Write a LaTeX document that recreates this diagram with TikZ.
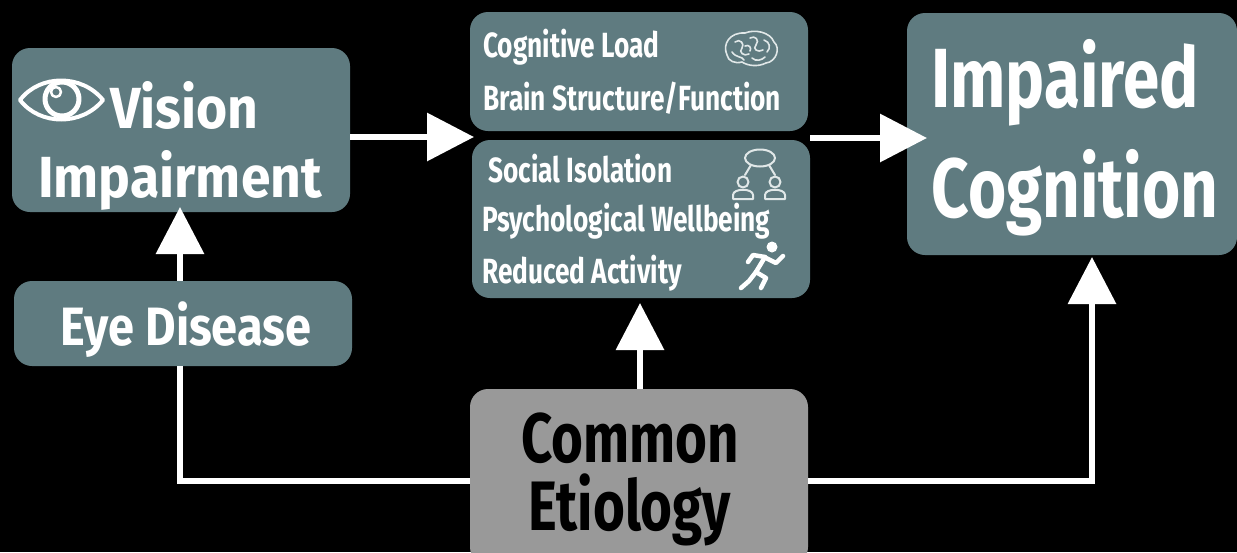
\documentclass[tikz,border=0pt]{standalone}
\usepackage{fontspec}
\setmainfont{Fira Sans}[FakeStretch=0.82]
\newfontfamily\fVis{Fira Sans}[FakeStretch=0.92]
\newfontfamily\fEye{Fira Sans}[FakeStretch=0.87]
\newfontfamily\fMid{Fira Sans}[FakeStretch=0.75]
\newfontfamily\fBig{Fira Sans}[FakeStretch=0.78]
\usetikzlibrary{arrows.meta,calc}
\definecolor{boxc}{RGB}{95,123,128}
\definecolor{graybox}{RGB}{153,153,153}
\definecolor{iconc}{RGB}{225,232,232}
\tikzset{
  box/.style={fill=boxc, rounded corners=18pt, inner sep=0pt},
  gbox/.style={fill=graybox, rounded corners=18pt, inner sep=0pt},
  txt/.style={text=white, inner sep=0pt},
  btxt/.style={text=black, inner sep=0pt},
  midtxt/.style={txt, anchor=base west, font=\fMid\bfseries\fontsize{35}{36}\selectfont},
  conn/.style={draw=white, line width=6.5pt},
  arr/.style={conn, -{Triangle[length=47pt,width=47pt]}},
  icon/.style={draw=white, line cap=round, line join=round},
}
\begin{document}
\begin{tikzpicture}[x=1pt,y=-1pt]
\fill[black] (0,0) rectangle (1237,552);
\useasboundingbox (0,0) rectangle (1237,552);
% boxes
\node[box, minimum width=338pt, minimum height=164pt] (vis) at (181,130) {};
\node[box, minimum width=338pt, minimum height=85pt] (eye) at (183,323.5) {};
\node[box, minimum width=338pt, minimum height=119pt] (cog) at (639,71.5) {};
\node[box, minimum width=338pt, minimum height=158pt] (soc) at (641,219) {};
\node[box, minimum width=330pt, minimum height=242pt] (imp) at (1072,134) {};
\node[gbox, minimum width=338pt, minimum height=176pt] (com) at (639,477) {};
% texts
\node[txt, anchor=base west, font=\fVis\bfseries\fontsize{58}{60}\selectfont] (visT1) at (110,128) {Vision};
\node[txt, anchor=base, font=\fVis\bfseries\fontsize{58}{60}\selectfont] (visT2) at (180,197) {Impairment};
\node[txt, anchor=base, font=\fEye\bfseries\fontsize{54}{56}\selectfont] (eyeT) at (186,345) {Eye Disease};
\node[midtxt] (cogT1) at (483,57) {Cognitive Load};
\node[midtxt] (cogT2) at (483,110) {Brain Structure/Function};
\node[midtxt] (socT1) at (488,182) {Social Isolation};
\node[midtxt] (socT2) at (482,231) {Psychological Wellbeing};
\node[midtxt] (socT3) at (482,283) {Reduced Activity};
\node[txt, anchor=base, font=\fBig\bfseries\fontsize{84}{86}\selectfont] (impT1) at (1065,107) {Impaired};
\node[txt, anchor=base, font=\fBig\bfseries\fontsize{84}{86}\selectfont] (impT2) at (1075,217) {Cognition};
\node[btxt, anchor=base, font=\fBig\bfseries\fontsize{70}{72}\selectfont] (comT1) at (630,462) {Common};
\node[btxt, anchor=base, font=\fBig\bfseries\fontsize{70}{72}\selectfont] (comT2) at (630,530) {Etiology};
% connector coordinates
\coordinate (gapL) at (474,137);
\coordinate (gapR) at (927,138);
\coordinate (visIn) at (180,207);
\coordinate (socIn) at (640,303);
\coordinate (impIn) at (1092,257);
\coordinate (baseY) at (0,481);
% connectors
\draw[arr] (vis.east |- gapL) -- (gapL);
\draw[arr] (soc.east |- gapR) -- (gapR);
\draw[arr] (eye.north -| visIn) -- (visIn);
\draw[arr] (com.north -| socIn) -- (socIn);
\draw[conn] (com.west |- baseY) -| (eye.south -| visIn);
\draw[arr] (com.east |- baseY) -| (impIn);
% eye icon
\draw[icon, line width=4pt] (20,100) .. controls (40,74) and (82,74) .. (103,100) .. controls (82,126) and (40,126) .. (20,100) -- cycle;
\draw[icon, line width=5pt] (62,99) circle (17);
\draw[icon, line width=2.5pt] (56,92) circle (5);
% brain icon
\begin{scope}[draw=iconc, line width=1.6pt, line cap=round]
\draw (727,55) .. controls (722,44) and (730,32) .. (745,33) .. controls (755,29) and (770,32) .. (774,42) .. controls (781,48) and (776,62) .. (766,63) .. controls (758,67) and (748,66) .. (742,62) .. controls (735,64) and (728,61) .. (727,55);
\draw (735,42) .. controls (740,38) and (745,44) .. (742,48) .. controls (738,52) and (744,57) .. (749,54);
\draw (750,38) .. controls (755,35) and (760,40) .. (756,45) .. controls (752,49) and (758,53) .. (763,50);
\draw (764,40) .. controls (770,42) and (771,48) .. (767,52);
\draw (732,52) .. controls (736,58) and (742,56) .. (744,60);
\draw (752,58) .. controls (756,62) and (762,60) .. (765,57);
\draw (745,46) .. controls (749,44) and (752,48) .. (750,51);
\end{scope}
% people icon
\begin{scope}[draw=iconc, line width=2pt, line cap=round, line join=round]
\draw (760,158) ellipse (15 and 8.5);
\draw (751,165) -- (745,175);
\draw (769,165) -- (775,175);
\draw (743,182) circle (5.5);
\draw (775,182) circle (5.5);
\draw (733,199) -- (733,195) .. controls (733,188) and (753,188) .. (753,195) -- (753,199) -- cycle;
\draw (765,199) -- (765,195) .. controls (765,188) and (785,188) .. (785,195) -- (785,199) -- cycle;
\end{scope}
% runner icon
\fill[white] (772,247) circle (5.5);
\begin{scope}[icon, line width=4.5pt]
\draw (765,257) -- (756,272);
\draw (766,258) -- (776,263) -- (783,256);
\draw (765,257) -- (753,255) -- (748,262);
\draw (756,272) -- (766,278) -- (761,288);
\draw (756,272) -- (749,281) -- (741,288);
\end{scope}
\end{tikzpicture}
\end{document}
